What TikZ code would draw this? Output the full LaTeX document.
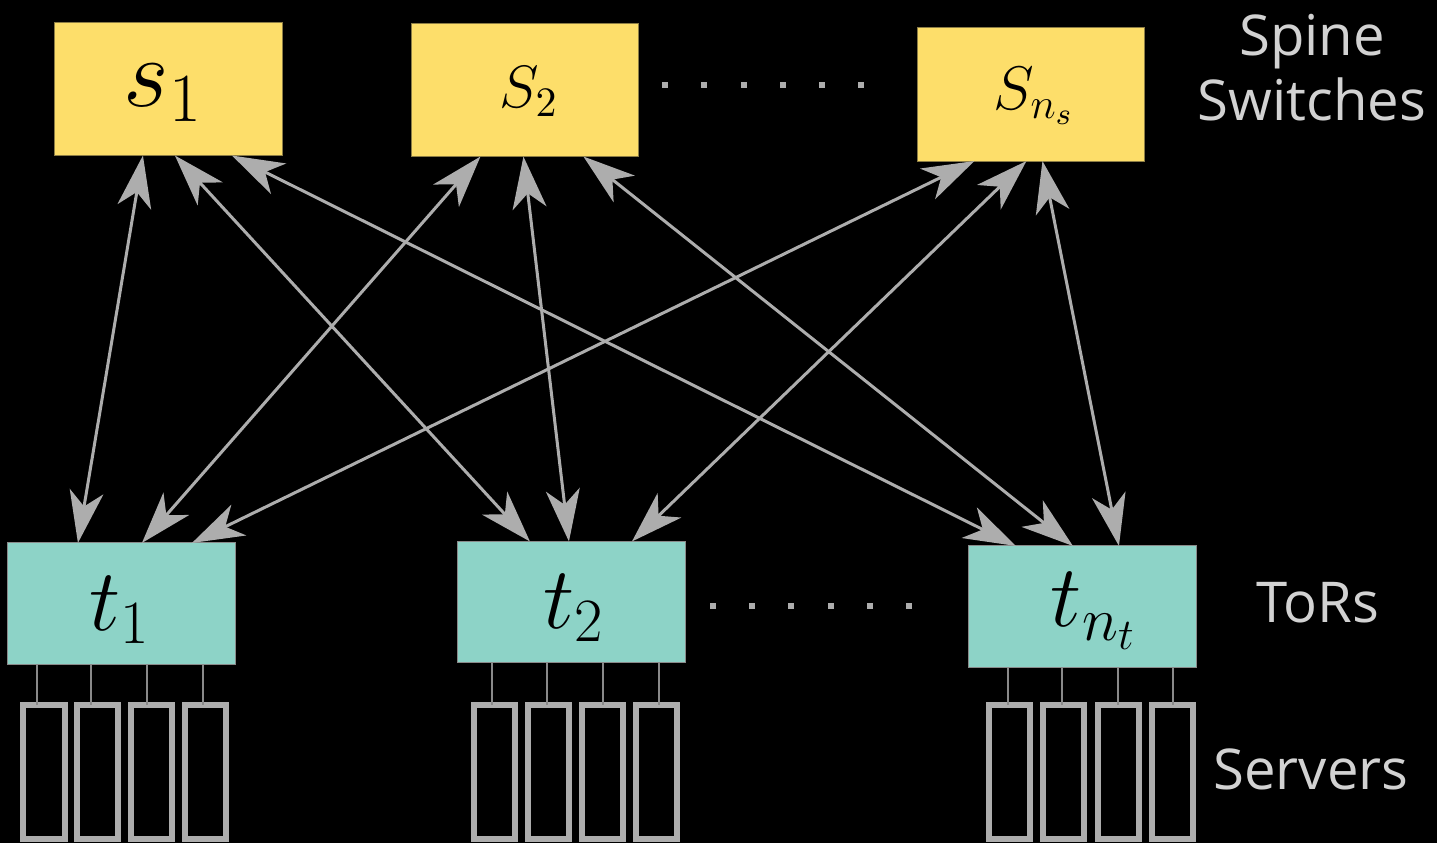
\RequirePackage{fix-cm}
\documentclass[tikz,border=0pt]{standalone}
\usepackage{fontspec}
\newfontfamily\labelfont{Open Sans}
\usetikzlibrary{arrows.meta,calc}

\definecolor{spinefill}{HTML}{FDDE6A}
\definecolor{spineedge}{HTML}{8C7D45}
\definecolor{torfill}{HTML}{8DD3C7}
\definecolor{edgegray}{HTML}{8A8A8A}
\definecolor{linkgray}{HTML}{ADADAD}
\definecolor{labelgray}{HTML}{D2D2D2}

\tikzset{
  spinebox/.style={draw=spineedge, line width=0.3pt, fill=spinefill,
    minimum width=2.27cm, minimum height=1.33cm, inner sep=0pt, outer sep=0pt},
  torbox/.style={draw=edgegray, line width=0.3pt, fill=torfill,
    minimum width=2.27cm, minimum height=1.21cm, inner sep=0pt, outer sep=0pt,
    font=\fontsize{25}{28}\selectfont},
  server/.style={draw=linkgray, line width=0.06cm,
    minimum width=0.41cm, minimum height=1.34cm, inner sep=0pt, outer sep=0pt},
  uplink/.style={draw=edgegray, line width=0.5pt},
  head/.tip={Stealth[length=0.52cm, width=0.34cm, inset=0.15cm]},
  link/.style={draw=linkgray, line width=0.03cm, head-head},
  tierlabel/.style={text=labelgray, align=center, inner sep=0pt,
    font=\labelfont\fontsize{16}{18.5}\selectfont},
  dot/.style={fill=linkgray},
}

\begin{document}
\begin{tikzpicture}[x=0.01cm, y=-0.01cm]
  \fill[black] (0,0) rectangle (1437,843);
  \useasboundingbox (0,0) rectangle (1437,843);

  % spine switches
  \node[spinebox] (s1) at (168.5,89) {};
  \node[spinebox] (s2) at (525,90) {};
  \node[spinebox] (sn) at (1031,94.5) {};
  \node[font=\fontsize{28}{30}\selectfont, inner sep=0pt] (s1lbl) at (163,93) {$s_1$};
  \node[font=\fontsize{17}{20}\selectfont, inner sep=0pt] (s2lbl) at (529,92) {$S_2$};
  \node[font=\fontsize{17.5}{20}\selectfont, inner sep=0pt] (snlbl) at (1034,96) {$S_{n_s}$};

  % top-of-rack switches
  \node[torbox] (t1) at (121.5,603.5) {};
  \node[torbox] (t2) at (571.5,602) {};
  \node[torbox] (tn) at (1082.5,606.5) {};
  \node[font=\fontsize{25}{28}\selectfont, inner sep=0pt] (t1lbl) at (120,610) {$t_1$};
  \node[font=\fontsize{25}{28}\selectfont, inner sep=0pt] (t2lbl) at (574,608) {$t_2$};
  \node[font=\fontsize{25}{28}\selectfont, inner sep=0pt] (tnlbl) at (1094,611) {$t_{n_t}$};

  % ellipses between switches
  \foreach \x in {665,704,744,783,822,861}
    \fill[dot] (\x-3,85-3) rectangle (\x+3,85+3);
  \foreach \x in {713,752,791,831,870,909}
    \fill[dot] (\x-3,606-3) rectangle (\x+3,606+3);

  % servers under each ToR, each hanging from its own uplink
  \foreach \t/\a/\b/\c/\d/\pa/\pb/\pc/\pd in {
      t1/44/97.5/151.5/205.5/29/83/139/195,
      t2/494.5/548.5/602.5/656.5/34/89/145/201,
      tn/1009.5/1063.5/1118/1172/39/93/149/204} {
    \foreach \k/\x/\p in {1/\a/\pa, 2/\b/\pb, 3/\c/\pc, 4/\d/\pd} {
      \node[server] (\t srv\k) at (\x,772) {};
      \coordinate (\t port\k) at ($(\t.south west)+(\p,0)$);
      \draw[uplink] (\t port\k) -- (\t port\k |- \t srv\k.north);
    }
  }

  % full mesh between spine and ToR layers
  \draw[link] ($(s1.south west)+(88,0)$)  -- ($(t1.north west)+(70,0)$);
  \draw[link] ($(s1.south west)+(120,0)$) -- ($(t2.north west)+(72,0)$);
  \draw[link] ($(s1.south west)+(177,0)$) -- ($(tn.north west)+(47,0)$);
  \draw[link] ($(s2.south west)+(69,0)$)  -- ($(t1.north west)+(134,0)$);
  \draw[link] ($(s2.south west)+(112,0)$) -- ($(t2.north west)+(111,0)$);
  \draw[link] ($(s2.south west)+(172,0)$) -- ($(tn.north west)+(104,0)$);
  \draw[link] ($(sn.south west)+(57,0)$)  -- ($(t1.north west)+(184,0)$);
  \draw[link] ($(sn.south west)+(109,0)$) -- ($(t2.north west)+(174,0)$);
  \draw[link] ($(sn.south west)+(125,0)$) -- ($(tn.north west)+(150,0)$);

  % tier labels
  \node[tierlabel] (lspine) at (1312,68) {Spine\\Switches};
  \node[tierlabel] (ltor) at (1318,603) {ToRs};
  \node[tierlabel] (lsrv) at (1311,769) {Servers};
\end{tikzpicture}
\end{document}
